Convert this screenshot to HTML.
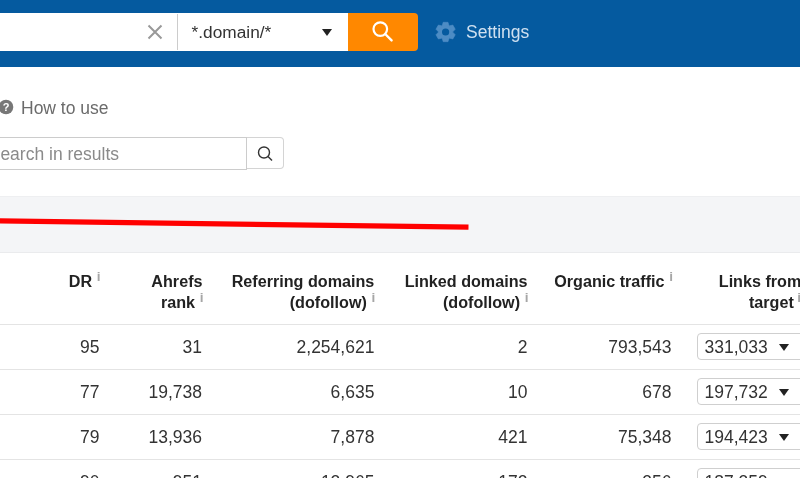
<!DOCTYPE html>
<html><head><meta charset="utf-8">
<style>
html,body{margin:0;padding:0;}
body{width:800px;height:478px;overflow:hidden;background:#fff;font-family:"Liberation Sans",sans-serif;position:relative;color:#333;}
.abs{position:absolute;}
#top{left:0;top:0;width:800px;height:67px;background:#055a9f;}
#inp{left:-10px;top:13px;width:358px;height:38px;background:#fff;}
#sep{left:177px;top:14px;width:1px;height:36px;background:#ccc;}
#mode{left:191.600px;top:13px;height:38px;line-height:38px;font-size:17.300px;color:#333;}
#caret{left:322px;top:29px;width:0;height:0;border-left:5.5px solid transparent;border-right:5.5px solid transparent;border-top:7px solid #222;}
#go{left:348px;top:13px;width:70px;height:38px;background:#ff8800;border-radius:0 4px 4px 0;}
#settings{left:466px;top:13px;height:38px;line-height:38px;font-size:17.500px;color:#cfe0f0;}
#how{left:21px;top:98px;font-size:17.500px;color:#6b6b6b;line-height:20px;}
#q{left:-4.300px;top:97.300px;width:20px;height:20px;}
#sin{left:-10px;top:137px;width:255px;height:31px;border:1px solid #ccc;background:#fff;box-sizing:content-box;}
#sph{left:0.400px;top:139px;height:31px;line-height:31px;font-size:17.500px;color:#8a8a8a;}
#sbtn{left:247px;top:137px;width:36px;height:30px;border:1px solid #d4d4d4;border-left:none;border-radius:0 4px 4px 0;background:#fff;}
#band{left:0;top:196px;width:800px;height:57px;background:#f4f5f7;border-top:1px solid #eeeff1;border-bottom:1px solid #eaebed;box-sizing:border-box;}
.hl{left:0;width:800px;height:1px;background:#e4e4e4;}
.th{font-weight:bold;font-size:16.150px;line-height:21px;text-align:right;color:#222;white-space:nowrap;}
.th sup{font-weight:bold;font-size:13.600px;line-height:1px;color:#a6a6a6;vertical-align:baseline;position:relative;top:-6.500px;left:1px;margin-left:3.700px;}
.td{font-size:17.500px;line-height:20px;text-align:right;color:#333;white-space:nowrap;}
.dd{left:697px;width:120px;height:25px;border:1px solid #cfcfcf;border-radius:4px;background:#fff;box-sizing:content-box;font-size:17.500px;line-height:25px;color:#333;}
.dd span{position:absolute;left:6.500px;top:1px;}
.dd i{position:absolute;left:80.500px;top:10px;width:0;height:0;border-left:5px solid transparent;border-right:5px solid transparent;border-top:7px solid #222;}
</style></head><body>
<div id="top" class="abs"></div>
<div id="inp" class="abs"></div>
<div id="sep" class="abs"></div>
<svg class="abs" style="left:145px;top:22px" width="20" height="20" viewBox="0 0 20 20"><path d="M3.5 3.5L16.5 16.5M16.5 3.5L3.5 16.5" stroke="#999" stroke-width="2" fill="none"/></svg>
<div id="mode" class="abs">*.domain/*</div>
<div id="caret" class="abs"></div>
<div id="go" class="abs"></div>
<svg class="abs" style="left:368px;top:17px" width="28" height="28" viewBox="368 17 28 28"><circle cx="380.300" cy="29.100" r="6.800" stroke="#fff" stroke-width="2.200" fill="none"/><path d="M385.200 34L391.600 40.400" stroke="#fff" stroke-width="2.400" stroke-linecap="round"/></svg>
<svg class="abs" style="left:433px;top:19px" width="26" height="26" viewBox="-13 -13 26 26"><g transform="translate(-0.400,0)"><g fill="#4d8cc4"><circle r="6.900"/><polygon points="-3.500,-6 -2.400,-9.700 2.400,-9.700 3.500,-6" stroke="#4d8cc4" stroke-width="0.600" stroke-linejoin="round" transform="rotate(0)"/><polygon points="-3.500,-6 -2.400,-9.700 2.400,-9.700 3.500,-6" stroke="#4d8cc4" stroke-width="0.600" stroke-linejoin="round" transform="rotate(60)"/><polygon points="-3.500,-6 -2.400,-9.700 2.400,-9.700 3.500,-6" stroke="#4d8cc4" stroke-width="0.600" stroke-linejoin="round" transform="rotate(120)"/><polygon points="-3.500,-6 -2.400,-9.700 2.400,-9.700 3.500,-6" stroke="#4d8cc4" stroke-width="0.600" stroke-linejoin="round" transform="rotate(180)"/><polygon points="-3.500,-6 -2.400,-9.700 2.400,-9.700 3.500,-6" stroke="#4d8cc4" stroke-width="0.600" stroke-linejoin="round" transform="rotate(240)"/><polygon points="-3.500,-6 -2.400,-9.700 2.400,-9.700 3.500,-6" stroke="#4d8cc4" stroke-width="0.600" stroke-linejoin="round" transform="rotate(300)"/></g><circle r="3.600" fill="#055a9f"/></g></svg>
<div id="settings" class="abs">Settings</div>

<svg id="q" class="abs" viewBox="0 0 20 20"><circle cx="10" cy="10" r="7.300" fill="#777"/><text x="10" y="14" font-size="11" font-weight="bold" text-anchor="middle" fill="#fff" font-family="Liberation Sans, sans-serif">?</text></svg>
<div id="how" class="abs">How to use</div>
<div id="sin" class="abs"></div>
<div id="sph" class="abs">earch in results</div>
<div id="sbtn" class="abs"></div>
<svg class="abs" style="left:255px;top:143px" width="20" height="20" viewBox="0 0 20 20"><circle cx="9" cy="9.5" r="5.5" stroke="#333" stroke-width="1.4" fill="none"/><path d="M13 13.5L17 17.5" stroke="#333" stroke-width="1.4"/></svg>

<div id="band" class="abs"></div>
<svg class="abs" style="left:0;top:196px" width="800" height="56"><line x1="-2" y1="24.850" x2="468.500" y2="31.150" stroke="#ff0000" stroke-width="5.200"/></svg>

<div class="abs th" style="right:700.5px;top:271px">DR<sup>i</sup></div>
<div class="abs th" style="right:597.500px;top:271px">Ahrefs<br>rank<sup>i</sup></div>
<div class="abs th" style="right:425.7px;top:271px">Referring domains<br>(dofollow)<sup>i</sup></div>
<div class="abs th" style="right:272.5px;top:271px">Linked domains<br>(dofollow)<sup>i</sup></div>
<div class="abs th" style="right:128px;top:271px">Organic traffic<sup>i</sup></div>
<div class="abs th" style="right:-1.300px;top:271px">Links from<br>target<sup style="left:-0.300px">i</sup></div>

<div class="abs hl" style="top:324px"></div>
<div class="abs hl" style="top:369px"></div>
<div class="abs hl" style="top:414px"></div>
<div class="abs hl" style="top:459px"></div>

<div class="abs td" style="right:700.5px;top:336.5px">95</div>
<div class="abs td" style="right:598px;top:336.5px">31</div>
<div class="abs td" style="right:425.600px;top:336.5px">2,254,621</div>
<div class="abs td" style="right:272.5px;top:336.5px">2</div>
<div class="abs td" style="right:128.500px;top:336.5px">793,543</div>
<div class="abs dd" style="top:333px"><span>331,033</span><i></i></div>

<div class="abs td" style="right:700.5px;top:381.5px">77</div>
<div class="abs td" style="right:598px;top:381.5px">19,738</div>
<div class="abs td" style="right:425.600px;top:381.5px">6,635</div>
<div class="abs td" style="right:272.5px;top:381.5px">10</div>
<div class="abs td" style="right:128.500px;top:381.5px">678</div>
<div class="abs dd" style="top:378px"><span>197,732</span><i></i></div>

<div class="abs td" style="right:700.5px;top:426.5px">79</div>
<div class="abs td" style="right:598px;top:426.5px">13,936</div>
<div class="abs td" style="right:425.600px;top:426.5px">7,878</div>
<div class="abs td" style="right:272.5px;top:426.5px">421</div>
<div class="abs td" style="right:128.500px;top:426.5px">75,348</div>
<div class="abs dd" style="top:423px"><span>194,423</span><i></i></div>

<div class="abs td" style="right:700.5px;top:471.5px">90</div>
<div class="abs td" style="right:598px;top:471.5px">951</div>
<div class="abs td" style="right:425.600px;top:471.5px">12,965</div>
<div class="abs td" style="right:272.5px;top:471.5px">172</div>
<div class="abs td" style="right:128.500px;top:471.5px">356</div>
<div class="abs dd" style="top:468px"><span>187,359</span><i></i></div>
</body></html>
